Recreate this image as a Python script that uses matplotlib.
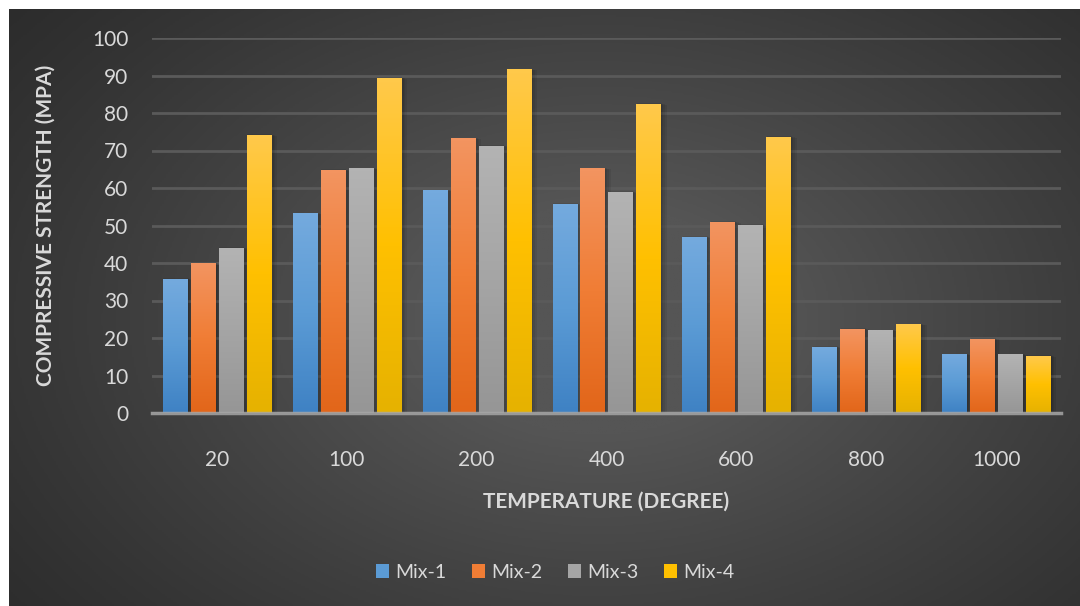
import numpy as np
import matplotlib
matplotlib.use("Agg")
import matplotlib.pyplot as plt
from matplotlib.colors import LinearSegmentedColormap

plt.rcParams['font.family'] = ['Lato', 'DejaVu Sans']

# compressive strength (MPa) after exposure to each temperature
temperatures = ["20", "100", "200", "400", "600", "800", "1000"]
mix_1 = [35.7, 53.2, 59.3, 55.7, 46.9, 17.6, 15.5]
mix_2 = [40.0, 64.8, 73.2, 65.1, 50.9, 22.4, 19.7]
mix_3 = [44.0, 65.1, 71.2, 58.9, 50.1, 21.9, 15.5]
mix_4 = [74.1, 89.3, 91.5, 82.4, 73.6, 23.5, 15.2]
series = [("Mix-1", mix_1), ("Mix-2", mix_2), ("Mix-3", mix_3), ("Mix-4", mix_4)]

# top / middle / bottom shades for each bar fill
shades = [
    ("#74aade", "#5b9bd5", "#3f82c4"),
    ("#f39460", "#f07d35", "#e2661a"),
    ("#b3b3b3", "#a5a5a5", "#969696"),
    ("#ffc94a", "#ffc000", "#e6b200"),
]

fig = plt.figure(figsize=(10.8, 6.06), dpi=100, facecolor="white")

# dark radial background panel
bg = fig.add_axes([9 / 1080, 0, 1 - 9 / 1080, 1 - 9 / 606], zorder=-5)
yy, xx = np.mgrid[0:1:300j, 0:1:540j]
r = np.sqrt(((xx - 0.55) / 0.75) ** 2 + ((yy - 0.52) / 0.9) ** 2)
val = np.clip(1 - r, 0, 1) ** 1.2
bg_cmap = LinearSegmentedColormap.from_list("bg", ["#2a2a2a", "#555555"])
bg.imshow(val, cmap=bg_cmap, aspect="auto", extent=[0, 1, 0, 1], vmin=0, vmax=0.75)
bg.set_axis_off()

ax = fig.add_axes([152 / 1080, 193 / 606, 909 / 1080, 375 / 606])
ax.set_facecolor("none")

x = np.arange(len(temperatures))
width = 0.185
step = 0.2155
offsets = (np.arange(len(series)) - 1.5) * step

grad = np.linspace(0, 1, 64).reshape(-1, 1)
handles = []
for i, (name, vals) in enumerate(series):
    top, mid, bot = shades[i]
    bars = ax.bar(x + offsets[i], vals, width, color=mid, label=name, zorder=2)
    handles.append(bars)
    cmap = LinearSegmentedColormap.from_list(name, [bot, mid, top])
    for b in bars:
        x0, h, w = b.get_x(), b.get_height(), b.get_width()
        # soft shadow to the right
        for k, a in zip([0.045, 0.03, 0.018, 0.008], [0.07, 0.07, 0.07, 0.07]):
            ax.add_patch(plt.Rectangle((x0 + 0.004, 0), w + k, h - k * 10 + 0.3,
                                       color="black", alpha=a, lw=0, zorder=1.5))
        ax.imshow(grad, cmap=cmap, origin="lower", aspect="auto",
                  extent=[x0, x0 + w, 0, h], zorder=2.5, interpolation="bilinear")

ax.set_xlim(-0.5, len(temperatures) - 0.5)
ax.set_ylim(0, 100)
ax.set_yticks(np.arange(0, 101, 10))
ax.set_xticks(x)
ax.set_xticklabels(temperatures)
ax.grid(axis="y", color="#5a5a5a", linewidth=2, zorder=0)
ax.set_axisbelow(True)

for s in ["top", "right", "left"]:
    ax.spines[s].set_visible(False)
ax.spines["bottom"].set_color("#a6a6a6")
ax.spines["bottom"].set_linewidth(2.5)
ax.spines["bottom"].set_alpha(0.85)
ax.spines["bottom"].set_zorder(4)

ax.tick_params(axis="both", length=0, colors="#d9d9d9", labelsize=15)
ax.tick_params(axis="x", pad=27)
ax.tick_params(axis="y", pad=17)

ax.set_xlabel("TEMPERATURE (DEGREE)", fontsize=15, fontweight="bold",
              color="#d9d9d9", labelpad=15)
ax.set_ylabel("COMPRESSIVE STRENGTH (MPA)", fontsize=15, fontweight="bold",
              color="#d9d9d9", labelpad=26)

fig.legend(handles=handles, loc="center", bbox_to_anchor=(555 / 1080, 1 - 572 / 606),
           ncol=4, frameon=False, fontsize=14, labelcolor="#d9d9d9",
           handlelength=0.7, handleheight=0.7, handletextpad=0.3, columnspacing=1.3)

fig.savefig("out.png", dpi=100, facecolor="white")
